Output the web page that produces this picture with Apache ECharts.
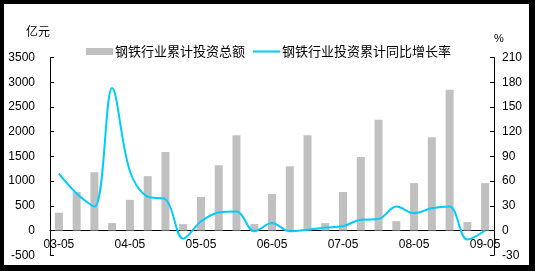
<!DOCTYPE html>
<html>
<head>
<meta charset="utf-8">
<script src="https://cdn.jsdelivr.net/npm/echarts@6/dist/echarts.min.js"></script>
<style>
html,body{margin:0;padding:0;background:#000;}
#c{width:535px;height:271px;}
</style>
</head>
<body>
<div id="c"></div>
<script>
var categories = ['03-05','03-08','03-11','04-02','04-05','04-08','04-11','05-02','05-05','05-08','05-11','06-02','06-05','06-08','06-11','07-02','07-05','07-08','07-11','08-02','08-05','08-08','08-11','09-02','09-05'];
var investTotal = [360,780,1180,150,620,1100,1590,130,680,1320,1930,130,740,1300,1930,150,780,1490,2240,190,960,1890,2850,170,960];
var growthRate = [69,45,29,173,72,41,38,-10,11,22,23,-1,9,-1,1,3.5,5.5,13,14,29,21,27,29,-11,0];
var leftTicks = {min:-500, max:3500, interval:500};
var rightTicks = {min:-30, max:210, interval:30};
var seriesNames = ['钢铁行业累计投资总额','钢铁行业投资累计同比增长率'];
var unitLeft = '亿元', unitRight = '%';

var FONT = '"Liberation Sans", Arial, "Noto Sans CJK SC", sans-serif';
var GRID_TOP = 57.6, GRID_BOTTOM = 15.8, H = 271;
var plotH = H - GRID_TOP - GRID_BOTTOM;
var zeroOffset = plotH * (0 - leftTicks.min) / (leftTicks.max - leftTicks.min);

var chart = echarts.init(document.getElementById('c'), null, {renderer:'canvas'});
chart.setOption({
  animation:false,
  backgroundColor:'#000',
  textStyle:{fontFamily:FONT, color:'#000'},
  graphic:[
    {type:'rect', z:-100, shape:{x:4,y:4,width:525,height:261}, style:{fill:'#fff'}, silent:true},
    {type:'text', left:26, top:25, z:10, style:{text:unitLeft, font:'12px "Noto Sans CJK SC", sans-serif', fill:'#000'}},
    {type:'text', left:494, top:33, z:10, style:{text:unitRight, font:'11px "Liberation Sans", Arial, sans-serif', fill:'#000'}}
  ],
  legend:{
    left:81, top:40, itemGap:8, itemWidth:27, itemHeight:7,
    textStyle:{fontSize:13, color:'#000', fontFamily:'"Noto Sans CJK SC", sans-serif', padding:[0,0,0,-3]},
    data:[
      {name:seriesNames[0], icon:'rect'},
      {name:seriesNames[1], icon:'path://M0,2.5h28v2h-28z M0,0h0.01v0.01h-0.01z M0,7h0.01v0.01h-0.01z'}
    ]
  },
  grid:{left:50, right:41, top:GRID_TOP, bottom:GRID_BOTTOM, containLabel:false, outerBoundsMode:'none'},
  xAxis:{
    type:'category', data:categories, boundaryGap:true,
    offset:-zeroOffset,
    axisLine:{onZero:false, lineStyle:{color:'#000', width:1}},
    axisTick:{inside:true, length:4, interval:1, lineStyle:{color:'#000'}},
    axisLabel:{interval:3, color:'#000', fontSize:12, margin:8, fontFamily:FONT},
    splitLine:{show:false}
  },
  yAxis:[
    {type:'value', min:leftTicks.min, max:leftTicks.max, interval:leftTicks.interval,
     axisLine:{show:true, onZero:false, lineStyle:{color:'#000'}},
     axisTick:{show:true, inside:true, length:4, lineStyle:{color:'#000'}},
     axisLabel:{color:'#000', fontSize:12, margin:15, fontFamily:FONT, formatter:function(v){return String(v);}},
     splitLine:{show:false}},
    {type:'value', min:rightTicks.min, max:rightTicks.max, interval:rightTicks.interval,
     axisLine:{show:true, onZero:false, lineStyle:{color:'#000'}},
     axisTick:{show:true, inside:true, length:4, lineStyle:{color:'#000'}},
     axisLabel:{color:'#000', fontSize:12, margin:8, fontFamily:FONT, formatter:function(v){return String(v);}},
     splitLine:{show:false}}
  ],
  series:[
    {name:seriesNames[0], type:'bar', yAxisIndex:0, data:investTotal, barWidth:8,
     itemStyle:{color:'#C0C0C0'}},
    {name:seriesNames[1], type:'line', yAxisIndex:1, data:growthRate, smooth:0.35,
     symbol:'none', lineStyle:{color:'#00CCFF', width:2}, itemStyle:{color:'#00CCFF'}, z:5}
  ]
});
</script>
</body>
</html>
